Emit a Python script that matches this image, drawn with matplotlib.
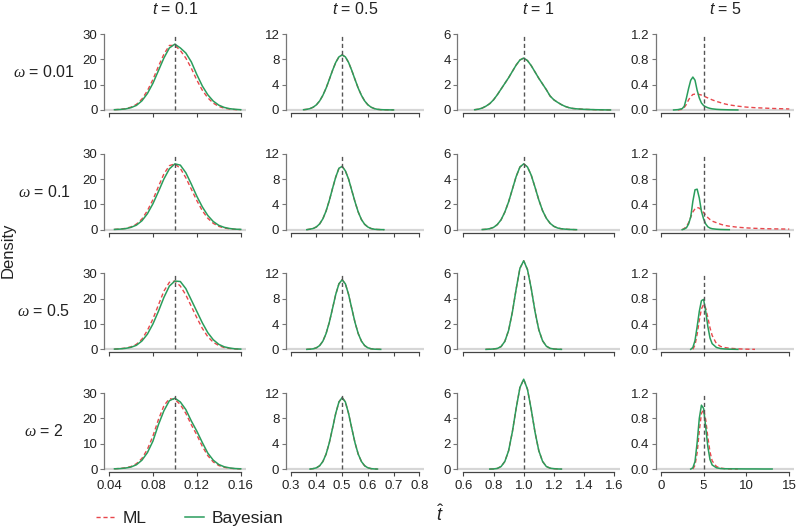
import numpy as np
import matplotlib
matplotlib.use("Agg")
from matplotlib import pyplot as plt
from matplotlib.lines import Line2D

plt.rcParams['font.family'] = ['Liberation Sans', 'DejaVu Sans']
plt.rcParams['mathtext.fontset'] = 'custom'
plt.rcParams['mathtext.rm'] = 'Liberation Sans'
plt.rcParams['mathtext.it'] = 'Liberation Sans:italic'
plt.rcParams['mathtext.sf'] = 'Liberation Serif:italic'

nan = float('nan')

# true values of t (columns) and omega (rows)
t_true = [0.1, 0.5, 1, 5]
t_labels = ["0.1", "0.5", "1", "5"]
omega_labels = ["0.01", "0.1", "0.5", "2"]

x_ticks = [[0.04, 0.08, 0.12, 0.16],
           [0.3, 0.4, 0.5, 0.6, 0.7, 0.8],
           [0.6, 0.8, 1.0, 1.2, 1.4, 1.6],
           [0, 5, 10, 15]]
x_ticklabels = [["0.04", "0.08", "0.12", "0.16"],
                ["0.3", "0.4", "0.5", "0.6", "0.7", "0.8"],
                ["0.6", "0.8", "1.0", "1.2", "1.4", "1.6"],
                ["0", "5", "10", "15"]]
y_ticks = [[0, 10, 20, 30], [0, 4, 8, 12], [0, 2, 4, 6], [0, 0.4, 0.8, 1.2]]
y_ticklabels = [["0", "10", "20", "30"], ["0", "4", "8", "12"],
                ["0", "2", "4", "6"], ["0.0", "0.4", "0.8", "1.2"]]

# ---- t = 0.1 ----
x_t01 = [0.045, 0.05, 0.055, 0.06, 0.065, 0.07, 0.075, 0.08, 0.085, 0.09, 0.095, 0.1,
         0.105, 0.11, 0.115, 0.12, 0.125, 0.13, 0.135, 0.14, 0.145, 0.15, 0.155, 0.16]
bayes_t01 = [
    [0.1, 0.2, 0.4, 0.9, 1.8, 3.6, 6.5, 10.5, 15.5, 20.5, 24.5, 26.0, 24.5, 22.5, 19.0, 14.0, 9.5, 6.0, 3.5, 1.9, 1.0, 0.5, 0.25, 0.1],
    [0.1, 0.2, 0.4, 0.9, 1.8, 3.5, 6.3, 10.2, 15.0, 20.0, 24.0, 26.0, 25.5, 22.5, 18.0, 13.2, 9.0, 5.6, 3.2, 1.7, 0.9, 0.45, 0.2, 0.1],
    [0.1, 0.2, 0.4, 0.8, 1.6, 3.3, 6.0, 10.0, 15.0, 20.5, 25.0, 27.0, 26.8, 24.0, 19.5, 15.0, 10.5, 6.6, 3.8, 2.0, 1.0, 0.5, 0.2, 0.1],
    [0.1, 0.2, 0.4, 0.8, 1.7, 3.5, 6.5, 11.0, 17.5, 23.0, 27.0, 28.0, 26.5, 23.5, 19.0, 15.0, 10.5, 6.3, 3.5, 1.8, 0.9, 0.45, 0.2, 0.1],
]
ml_t01 = [
    [0.1, 0.25, 0.5, 1.1, 2.2, 4.3, 7.6, 12.0, 17.2, 22.0, 25.5, 25.5, 23.5, 20.5, 16.5, 11.8, 7.8, 4.8, 2.7, 1.4, 0.7, 0.35, 0.15, 0.05],
    [0.1, 0.25, 0.5, 1.1, 2.2, 4.2, 7.5, 11.8, 17.0, 22.0, 25.3, 26.0, 24.2, 20.5, 16.0, 11.5, 7.5, 4.5, 2.5, 1.3, 0.65, 0.3, 0.15, 0.05],
    [0.1, 0.25, 0.5, 1.0, 2.0, 4.0, 7.5, 12.0, 17.5, 23.0, 26.5, 27.0, 25.0, 21.5, 17.0, 12.5, 8.3, 5.0, 2.8, 1.5, 0.7, 0.35, 0.15, 0.05],
    [0.1, 0.25, 0.5, 1.0, 2.1, 4.2, 7.8, 13.0, 19.5, 25.0, 27.8, 27.5, 25.5, 22.0, 17.5, 13.5, 9.0, 5.3, 2.8, 1.4, 0.7, 0.3, 0.15, 0.05],
]

# ---- t = 0.5 ----
x_t05 = [0.35, 0.3625, 0.375, 0.3875, 0.4, 0.4125, 0.425, 0.4375, 0.45, 0.4625, 0.475, 0.4875,
         0.5, 0.5125, 0.525, 0.5375, 0.55, 0.5625, 0.575, 0.5875, 0.6, 0.6125, 0.625, 0.6375,
         0.65, 0.6625, 0.675, 0.6875, 0.7]
bayes_t05 = [
    [0.04, 0.1, 0.22, 0.44, 0.82, 1.43, 2.31, 3.45, 4.82, 6.24, 7.51, 8.39, 8.7, 8.39, 7.51, 6.24, 4.82, 3.45, 2.31, 1.43, 0.82, 0.44, 0.22, 0.1, 0.05, 0.03, 0.02, 0.01, 0.005],
    [nan, 0.0, 0.08, 0.19, 0.44, 0.91, 1.72, 2.95, 4.6, 6.5, 8.3, 9.7, 10.0, 9.3, 8.0, 6.2, 4.4, 2.8, 1.6, 0.85, 0.42, 0.18, 0.07, 0.03, 0.01, 0.0, nan, nan, nan],
    [nan, 0.0, 0.03, 0.09, 0.25, 0.6, 1.3, 2.5, 4.26, 6.45, 8.68, 10.36, 11.0, 10.36, 8.68, 6.45, 4.26, 2.5, 1.3, 0.6, 0.25, 0.09, 0.03, 0.01, 0.0, nan, nan, nan, nan],
    [nan, nan, 0.0, 0.07, 0.2, 0.52, 1.19, 2.36, 4.15, 6.43, 8.79, 10.61, 11.3, 10.61, 8.79, 6.43, 4.15, 2.36, 1.19, 0.52, 0.2, 0.07, 0.02, 0.0, nan, nan, nan, nan, nan],
]
ml_t05 = bayes_t05  # the two estimates coincide here

# ---- t = 1 ----
x_t1 = [0.65, 0.675, 0.7, 0.725, 0.75, 0.775, 0.8, 0.825, 0.85, 0.875, 0.9, 0.925, 0.95,
        0.975, 1.0, 1.025, 1.05, 1.075, 1.1, 1.125, 1.15, 1.175, 1.2, 1.225, 1.25, 1.275,
        1.3, 1.325, 1.35, 1.375, 1.4, 1.425, 1.45, 1.475, 1.5, 1.525, 1.55, 1.575, 1.6]
bayes_t1 = [
    [nan, 0.02, 0.06, 0.15, 0.3, 0.5, 0.8, 1.2, 1.65, 2.1, 2.55, 3.05, 3.55, 3.95, 4.1, 3.9, 3.5, 3.0, 2.5, 2.05, 1.6, 1.1, 0.8, 0.6, 0.42, 0.28, 0.18, 0.12, 0.09, 0.07, 0.05, 0.04, 0.03, 0.02, 0.015, 0.01, 0.005, 0.0, nan],
    [nan, nan, nan, 0.01, 0.03, 0.08, 0.18, 0.4, 0.78, 1.39, 2.2, 3.2, 4.2, 4.95, 5.2, 4.95, 4.3, 3.35, 2.35, 1.5, 0.9, 0.5, 0.26, 0.13, 0.07, 0.04, 0.02, 0.01, 0.0, nan, nan, nan, nan, nan, nan, nan, nan, nan, nan],
    [nan, nan, nan, nan, 0.0, 0.01, 0.03, 0.07, 0.22, 0.63, 1.5, 2.95, 4.77, 6.4, 7.0, 6.3, 4.8, 3.0, 1.55, 0.68, 0.25, 0.08, 0.03, 0.01, 0.0, nan, nan, nan, nan, nan, nan, nan, nan, nan, nan, nan, nan, nan, nan],
    [nan, nan, nan, nan, nan, 0.0, 0.01, 0.05, 0.2, 0.6, 1.45, 2.95, 4.8, 6.45, 7.1, 6.3, 4.7, 2.9, 1.45, 0.6, 0.2, 0.07, 0.03, 0.01, 0.0, nan, nan, nan, nan, nan, nan, nan, nan, nan, nan, nan, nan, nan, nan],
]
ml_t1 = bayes_t1

# ---- t = 5 ----
x_t5 = [1.0, 1.5, 2.0, 2.5, 2.75, 3.0, 3.25, 3.5, 3.75, 4.0, 4.25, 4.5, 4.75, 5.0, 5.25,
        5.5, 5.75, 6.0, 6.5, 7.0, 7.5, 8.0, 9.0, 10.0, 11.0, 12.0, 13.0, 14.0, 15.0]
bayes_t5 = [
    [nan, 0.0, 0.005, 0.02, 0.06, 0.19, 0.34, 0.47, 0.52, 0.47, 0.31, 0.19, 0.11, 0.07, 0.05, 0.035, 0.025, 0.018, 0.01, 0.006, 0.004, 0.002, 0.0, nan, nan, nan, nan, nan, nan],
    [nan, nan, nan, 0.0, 0.01, 0.03, 0.09, 0.2, 0.45, 0.63, 0.64, 0.5, 0.29, 0.17, 0.09, 0.045, 0.025, 0.015, 0.007, 0.003, 0.001, 0.0, nan, nan, nan, nan, nan, nan, nan],
    [nan, nan, nan, nan, nan, nan, nan, 0.0, 0.03, 0.14, 0.36, 0.6, 0.77, 0.79, 0.6, 0.36, 0.18, 0.09, 0.03, 0.012, 0.006, 0.003, 0.0, nan, nan, nan, nan, nan, nan],
    [nan, nan, nan, nan, nan, nan, nan, 0.0, 0.02, 0.12, 0.42, 0.8, 1.01, 0.96, 0.66, 0.35, 0.15, 0.065, 0.02, 0.008, 0.005, 0.004, 0.003, 0.002, 0.002, 0.001, 0.001, nan, nan],
]
ml_t5 = [
    [nan, nan, 0.0, 0.01, 0.04, 0.09, 0.16, 0.21, 0.245, 0.25, 0.25, 0.245, 0.235, 0.22, 0.205, 0.19, 0.175, 0.16, 0.135, 0.115, 0.095, 0.08, 0.06, 0.045, 0.036, 0.03, 0.024, 0.02, 0.016],
    [nan, nan, nan, 0.0, 0.02, 0.05, 0.11, 0.2, 0.28, 0.33, 0.35, 0.34, 0.31, 0.27, 0.23, 0.19, 0.16, 0.135, 0.11, 0.085, 0.066, 0.055, 0.038, 0.028, 0.021, 0.016, 0.013, 0.011, 0.009],
    [nan, nan, nan, nan, nan, nan, nan, nan, 0.0, 0.07, 0.24, 0.46, 0.64, 0.71, 0.65, 0.5, 0.34, 0.22, 0.09, 0.045, 0.028, 0.018, 0.008, 0.003, 0.0, nan, nan, nan, nan],
    [nan, nan, nan, nan, nan, nan, nan, nan, 0.0, 0.06, 0.26, 0.6, 0.88, 0.94, 0.78, 0.5, 0.27, 0.13, 0.04, 0.015, 0.006, 0.003, 0.0, nan, nan, nan, nan, nan, nan],
]

xs = [x_t01, x_t05, x_t1, x_t5]
bayes = [bayes_t01, bayes_t05, bayes_t1, bayes_t5]
ml = [ml_t01, ml_t05, ml_t1, ml_t5]

####################################################################

GREEN = "#2a9d5c"
RED = "#e8474c"
AXIS = "#444444"
TXT = "#222222"

W, H = 798, 526
col_px = [(103.7, 246.0), (285.6, 424.4), (457.3, 620.3), (655.6, 794.4)]
row_top, row_h, row_step = 31.0, 82.0, 119.7

fig = plt.figure(figsize=(W / 100, H / 100), dpi=100)

for c in range(4):
    left, right = col_px[c]
    for r in range(4):
        top = row_top + r * row_step
        ax = fig.add_axes([left / W, 1 - (top + row_h) / H, (right - left) / W, row_h / H])

        ax.axhline(0, color="#d6d6d6", lw=1.6, zorder=1)
        ax.plot(xs[c], ml[c][r], color=RED, lw=1.0, dashes=(3, 2), zorder=2, clip_on=False)
        ax.plot(xs[c], bayes[c][r], color=GREEN, lw=1.1, zorder=3, clip_on=False)
        ax.vlines(t_true[c], 0, y_ticks[c][-1], color="#555555", lw=1.0,
                  linestyles=(0, (3, 2)), zorder=4)

        # R-like axes: 4% padding, detached spines spanning the ticks
        xr = x_ticks[c][-1] - x_ticks[c][0]
        yr = y_ticks[c][-1] - y_ticks[c][0]
        ax.set_xlim(x_ticks[c][0] - 0.04 * xr, x_ticks[c][-1] + 0.04 * xr)
        ax.set_ylim(y_ticks[c][0] - 0.04 * yr, y_ticks[c][-1] + 0.04 * yr)
        for s in ["top", "right"]:
            ax.spines[s].set_visible(False)
        ax.spines["left"].set_bounds(y_ticks[c][0], y_ticks[c][-1])
        ax.spines["bottom"].set_bounds(x_ticks[c][0], x_ticks[c][-1])
        ax.spines["left"].set_color("#777777")
        ax.spines["bottom"].set_color(AXIS)
        ax.spines["left"].set_linewidth(0.9)
        ax.spines["bottom"].set_linewidth(0.9)

        ax.set_yticks(y_ticks[c])
        ax.set_yticklabels(y_ticklabels[c])
        ax.set_xticks(x_ticks[c])
        if r == 3:
            ax.set_xticklabels(x_ticklabels[c])
        else:
            ax.set_xticklabels([])
        ax.tick_params(axis="y", length=3, width=0.8, color="#777777", pad=1.5,
                       labelsize=9.5, labelcolor=TXT)
        ax.tick_params(axis="x", length=3, width=0.8, color=AXIS, pad=3,
                       labelsize=9.5, labelcolor=TXT)
        ax.patch.set_visible(False)

        if r == 0:
            fig.text((left + right) / 2 / W, 1 - 9 / H, f"$t$ = {t_labels[c]}",
                     ha="center", va="center", fontsize=11.5, color=TXT)
        if c == 0:
            fig.text(44 / W, 1 - (top + 41) / H, rf"$\mathsf{{\omega}}$ = {omega_labels[r]}",
                     ha="center", va="center", fontsize=11.5, color=TXT)

fig.text(8 / W, 1 - 250 / H, "Density", rotation=90, ha="center", va="center",
         fontsize=12, color=TXT)
fig.text(440 / W, 1 - 515 / H, r"$\hat{t}$", ha="center", va="center", fontsize=13, color=TXT)

handles = [Line2D([], [], color=RED, lw=1.0, dashes=(3, 2)),
           Line2D([], [], color=GREEN, lw=1.1)]
fig.legend(handles, ["ML", "Bayesian"], loc="center left",
           bbox_to_anchor=(96 / W, 1 - 518 / H), ncol=2, frameon=False,
           handlelength=1.1, handletextpad=0.45, columnspacing=2.2,
           fontsize=12.5, borderpad=0, borderaxespad=0, labelcolor=TXT)

fig.savefig("out.png", dpi=100)
